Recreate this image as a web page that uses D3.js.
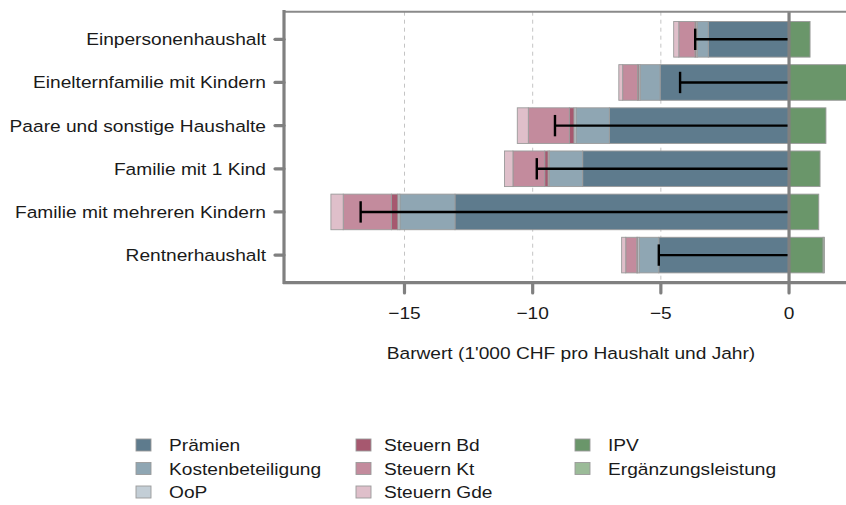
<!DOCTYPE html>
<html>
<head>
<meta charset="utf-8">
<script src="https://cdn.jsdelivr.net/npm/d3@7"></script>
<style>
  body { margin: 0; background: #fff; }
  text { font-family: "Liberation Sans", Arial, sans-serif; fill: #1a1a1a; }
</style>
</head>
<body>
<script>
// DATA (1'000 CHF pro Haushalt und Jahr)
var households = ["Einpersonenhaushalt", "Einelternfamilie mit Kindern",
  "Paare und sonstige Haushalte", "Familie mit 1 Kind",
  "Familie mit mehreren Kindern", "Rentnerhaushalt"];
var praemien = [-3.15, -5.03, -7.01, -8.05, -13.03, -5.08];
var kostenbet = [-0.43, -0.78, -1.30, -1.30, -2.15, -0.77];
var oop = [-0.05, -0.05, -0.08, -0.05, -0.08, -0.06];
var steuernBd = [-0.04, -0.05, -0.18, -0.13, -0.25, -0.03];
var steuernKt = [-0.63, -0.58, -1.60, -1.24, -1.88, -0.43];
var steuernGde = [-0.20, -0.15, -0.43, -0.33, -0.48, -0.16];
var ipv = [0.82, 2.39, 1.44, 1.21, 1.16, 1.33];
var ergLeistung = [0, 0, 0, 0, 0, 0.05];
var netto = [-3.66, -4.25, -9.13, -9.84, -16.71, -5.08];
var xTicks = [-15, -10, -5, 0];

var seriesNames = ["Prämien", "Kostenbeteiligung", "OoP", "Steuern Bd", "Steuern Kt",
  "Steuern Gde", "IPV", "Ergänzungsleistung"];
var seriesValues = [praemien, kostenbet, oop, steuernBd, steuernKt, steuernGde, ipv, ergLeistung];
var seriesColors = ["#5e7b8d", "#8fa6b3", "#c3ced6", "#a6586f", "#c38b9d", "#dfbfca",
  "#6a966a", "#9bbb98"];

var width = 846;
var height = 505;
var sx = 1.14;      // reference text is a little stretched horizontally
var fontSize = 16.8;

var svg = d3.select("body").append("svg")
  .attr("width", width)
  .attr("height", height);

var x = d3.scaleLinear().domain([-19.7, 2.69]).range([284, 858]);
var y = d3.scalePoint().domain(households).range([11.7, 282.7]).padding(0.64);
var barH = y.step() * 0.825;

function label(sel, px, py, txt, anchor) {
  return sel.append("text")
    .attr("transform", "translate(" + px + "," + py + ") scale(" + sx + ",1)")
    .attr("text-anchor", anchor)
    .style("font-size", fontSize + "px")
    .text(txt);
}

// table for the stack
var rows = households.map(function(h, i) {
  var r = { household: h };
  seriesNames.forEach(function(s, k) { r[s] = seriesValues[k][i]; });
  return r;
});
var stacked = d3.stack().keys(seriesNames).offset(d3.stackOffsetDiverging)(rows);

// grid
svg.append("g").selectAll("line")
  .data(xTicks.filter(function(t) { return t !== 0; }))
  .enter().append("line")
  .attr("x1", function(d) { return x(d); })
  .attr("x2", function(d) { return x(d); })
  .attr("y1", 11.7).attr("y2", 282.7)
  .attr("stroke", "#c4c4c4")
  .attr("stroke-width", 1)
  .attr("stroke-dasharray", "4,4");

// bars
var layer = svg.append("g").selectAll("g")
  .data(stacked)
  .enter().append("g")
  .attr("fill", function(d, k) { return seriesColors[k]; });

layer.selectAll("rect")
  .data(function(d) { return d.filter(function(p) { return p[1] - p[0] > 0; }); })
  .enter().append("rect")
  .attr("x", function(p) { return x(p[0]); })
  .attr("width", function(p) { return x(p[1]) - x(p[0]); })
  .attr("y", function(p) { return y(p.data.household) - barH / 2; })
  .attr("height", barH)
  .attr("stroke", "#9a9a9a")
  .attr("stroke-width", 0.9);

// zero line
svg.append("line")
  .attr("x1", x(0)).attr("x2", x(0))
  .attr("y1", 11.7).attr("y2", 282.7)
  .attr("stroke", "#808080")
  .attr("stroke-width", 3.2);

// net values
var net = svg.append("g").selectAll("g")
  .data(households)
  .enter().append("g");
net.append("line")
  .attr("x1", function(d, i) { return x(netto[i]); })
  .attr("x2", x(0) - 1.5)
  .attr("y1", function(d) { return y(d); })
  .attr("y2", function(d) { return y(d); })
  .attr("stroke", "#000")
  .attr("stroke-width", 2.4);
net.append("line")
  .attr("x1", function(d, i) { return x(netto[i]); })
  .attr("x2", function(d, i) { return x(netto[i]); })
  .attr("y1", function(d) { return y(d) - barH * 0.3; })
  .attr("y2", function(d) { return y(d) + barH * 0.3; })
  .attr("stroke", "#000")
  .attr("stroke-width", 2.4);

// panel frame
svg.append("line")
  .attr("x1", 284).attr("x2", width)
  .attr("y1", 11.7).attr("y2", 11.7)
  .attr("stroke", "#8a8a8a")
  .attr("stroke-width", 2);
svg.append("line")
  .attr("x1", 284).attr("x2", 284)
  .attr("y1", 10).attr("y2", 284)
  .attr("stroke", "#808080")
  .attr("stroke-width", 3.2);
svg.append("line")
  .attr("x1", 283).attr("x2", width)
  .attr("y1", 282.7).attr("y2", 282.7)
  .attr("stroke", "#808080")
  .attr("stroke-width", 3.2);

// y axis ticks and labels
svg.append("g").selectAll("line")
  .data(households)
  .enter().append("line")
  .attr("x1", 275).attr("x2", 284)
  .attr("y1", function(d) { return y(d); })
  .attr("y2", function(d) { return y(d); })
  .attr("stroke", "#808080")
  .attr("stroke-width", 3.2)
  .attr("stroke-linecap", "round");
households.forEach(function(h) {
  label(svg, 266, y(h) + 6, h, "end");
});

// x axis ticks and labels
svg.append("g").selectAll("line")
  .data(xTicks)
  .enter().append("line")
  .attr("x1", function(d) { return x(d); })
  .attr("x2", function(d) { return x(d); })
  .attr("y1", 283).attr("y2", 293)
  .attr("stroke", "#808080")
  .attr("stroke-width", 3.2)
  .attr("stroke-linecap", "round");
xTicks.forEach(function(t) {
  label(svg, x(t), 318.7, t < 0 ? "\u2212" + Math.abs(t) : String(t), "middle");
});

label(svg, 571, 359, "Barwert (1'000 CHF pro Haushalt und Jahr)", "middle");

// legend
var legSquareX = [136, 356, 575];
var legTextX = [169, 384, 608];
var legRowY = [445, 468.5, 492];
seriesNames.forEach(function(s, k) {
  var col = Math.min(Math.floor(k / 3), 2);
  var row = k < 6 ? k % 3 : k - 6;
  svg.append("rect")
    .attr("x", legSquareX[col])
    .attr("y", legRowY[row] - 6)
    .attr("width", 15)
    .attr("height", 12)
    .attr("fill", seriesColors[k])
    .attr("stroke", "#9a9a9a")
    .attr("stroke-width", 0.9);
  label(svg, legTextX[col], legRowY[row] + 6, s, "start");
});
</script>
</body>
</html>
